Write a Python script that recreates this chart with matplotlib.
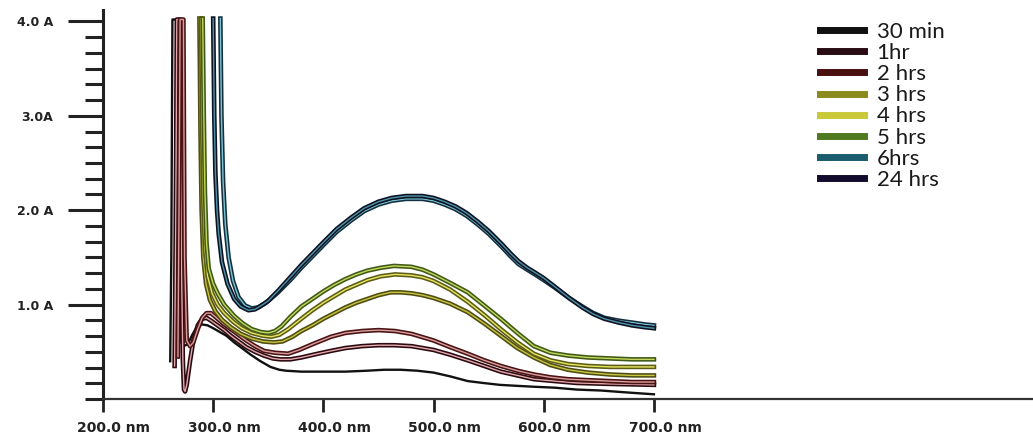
import matplotlib
matplotlib.use("Agg", force=True)
import matplotlib.pyplot as plt
import matplotlib.patheffects as pe
import matplotlib.transforms as mtransforms
from matplotlib.lines import Line2D
from matplotlib.ticker import FixedLocator

# UV-Vis spectra recorded at different reaction times (wavelength in nm, absorbance in A)
wl_30min = [261, 262, 263, 265, 267, 268, 270, 273, 277, 281, 285, 290, 295, 300, 306, 312, 319, 326,
            334, 343, 352, 360, 366, 380, 400, 420, 440, 455, 470, 485, 500, 515, 531, 545, 560, 575,
            591, 610, 630, 652, 675, 700]
abs_30min = [0.40, 1.5, 4.02, 4.02, 4.02, 1.2, 0.62, 0.56, 0.58, 0.68, 0.76, 0.79, 0.78, 0.75, 0.71, 0.67,
             0.60, 0.54, 0.47, 0.40, 0.34, 0.31, 0.30, 0.29, 0.29, 0.29, 0.30, 0.31, 0.31, 0.30, 0.28, 0.24,
             0.19, 0.17, 0.15, 0.14, 0.13, 0.12, 0.10, 0.09, 0.07, 0.05]

wl_1hr = [265, 266, 267, 270, 271.5, 272.5, 273.5, 274.5, 276, 279, 282, 286, 290, 294, 298, 304, 310, 316,
          323, 330, 338, 346, 354, 361, 370, 380, 395, 407, 420, 435, 450, 464, 480, 500, 515, 531, 546,
          561, 576, 591, 610, 630, 660, 700]
abs_1hr = [0.35, 1.8, 4.02, 4.02, 1.2, 0.40, 0.10, 0.08, 0.15, 0.40, 0.62, 0.78, 0.85, 0.86, 0.83, 0.78,
           0.73, 0.67, 0.61, 0.55, 0.50, 0.46, 0.43, 0.42, 0.42, 0.44, 0.48, 0.51, 0.54, 0.56, 0.57, 0.57,
           0.56, 0.52, 0.47, 0.41, 0.35, 0.29, 0.25, 0.21, 0.19, 0.17, 0.16, 0.15]

wl_2hrs = [268, 269, 270, 273, 274, 276, 279, 282, 286, 290, 294, 298, 303, 309, 316, 323, 330, 338, 346,
           356, 368, 378, 390, 407, 420, 435, 450, 465, 480, 500, 515, 531, 546, 561, 576, 591, 606, 622,
           640, 660, 680, 700]
abs_2hrs = [0.45, 2.0, 4.02, 4.02, 1.5, 0.62, 0.56, 0.60, 0.74, 0.86, 0.91, 0.91, 0.86, 0.80, 0.74, 0.68,
            0.62, 0.56, 0.51, 0.49, 0.48, 0.52, 0.58, 0.66, 0.70, 0.72, 0.73, 0.72, 0.69, 0.62, 0.55, 0.48,
            0.41, 0.35, 0.30, 0.26, 0.23, 0.21, 0.20, 0.19, 0.18, 0.18]

wl_3hrs = [287.5, 288.5, 289.5, 291, 293.5, 297, 302, 308, 316, 325, 335, 345, 355, 363, 372, 380, 390,
           400, 410, 420, 430, 440, 450, 461, 470, 480, 490, 500, 515, 531, 546, 561, 576, 591, 606, 622,
           640, 660, 680, 700]
abs_3hrs = [4.03, 2.8, 2.0, 1.5, 1.22, 1.05, 0.93, 0.84, 0.76, 0.69, 0.64, 0.61, 0.60, 0.61, 0.66, 0.72,
            0.78, 0.85, 0.91, 0.97, 1.02, 1.06, 1.10, 1.13, 1.13, 1.12, 1.10, 1.07, 1.01, 0.92, 0.80, 0.67,
            0.54, 0.44, 0.36, 0.31, 0.28, 0.26, 0.25, 0.25]

wl_4hrs = [289, 290, 291, 292.5, 295, 299, 304, 310, 318, 326, 335, 345, 353, 360, 368, 380, 390, 400, 410,
           420, 430, 440, 452, 465, 480, 490, 500, 515, 531, 546, 561, 576, 591, 606, 622, 640, 660, 680, 700]
abs_4hrs = [4.03, 2.9, 2.1, 1.6, 1.3, 1.12, 1.0, 0.91, 0.82, 0.75, 0.70, 0.67, 0.66, 0.68, 0.74, 0.85,
            0.94, 1.02, 1.09, 1.16, 1.21, 1.26, 1.30, 1.32, 1.31, 1.29, 1.25, 1.16, 1.03, 0.89, 0.74, 0.60,
            0.48, 0.41, 0.37, 0.35, 0.34, 0.34, 0.34]

wl_5hrs = [290.5, 291.5, 292.5, 294, 296, 300, 304, 310, 319, 327, 335, 343, 350, 356, 362, 370, 380, 390,
           400, 410, 420, 430, 440, 452, 464, 480, 490, 500, 515, 531, 546, 561, 576, 591, 606, 622, 640,
           660, 680, 700]
abs_5hrs = [4.03, 3.0, 2.2, 1.65, 1.38, 1.22, 1.12, 1.0, 0.88, 0.80, 0.74, 0.71, 0.70, 0.72, 0.77, 0.87,
            0.98, 1.06, 1.14, 1.21, 1.27, 1.32, 1.36, 1.39, 1.41, 1.40, 1.37, 1.32, 1.23, 1.13, 0.99, 0.85,
            0.70, 0.56, 0.49, 0.46, 0.44, 0.43, 0.42, 0.42]

wl_6hrs = [306.5, 307.5, 309, 311, 314, 318, 323, 329, 335, 341, 348, 358, 370, 380, 390, 400, 412, 425,
           437, 450, 462, 475, 490, 500, 510, 520, 530, 540, 550, 562, 570, 577, 585, 592, 600, 610, 623,
           635, 645, 655, 668, 680, 692, 700]
abs_6hrs = [4.03, 3.0, 2.3, 1.85, 1.5, 1.25, 1.08, 0.99, 0.96, 0.97, 1.02, 1.12, 1.26, 1.39, 1.51, 1.63,
            1.77, 1.89, 1.99, 2.06, 2.10, 2.12, 2.12, 2.10, 2.06, 2.01, 1.94, 1.85, 1.75, 1.61, 1.51, 1.43,
            1.37, 1.32, 1.26, 1.18, 1.07, 0.98, 0.91, 0.86, 0.83, 0.81, 0.79, 0.78]

wl_24hrs = [300, 301, 302, 303.5, 305, 308, 313, 319, 325, 332, 338, 345, 350, 360, 370, 380, 390, 400,
            412, 425, 437, 450, 462, 475, 490, 500, 510, 520, 530, 540, 550, 562, 570, 577, 585, 592, 600,
            610, 623, 635, 645, 655, 668, 680, 692, 700]
abs_24hrs = [4.03, 3.0, 2.4, 2.0, 1.75, 1.45, 1.22, 1.06, 0.98, 0.94, 0.95, 1.0, 1.04, 1.16, 1.29, 1.42,
             1.54, 1.66, 1.80, 1.92, 2.02, 2.09, 2.13, 2.15, 2.15, 2.13, 2.09, 2.04, 1.97, 1.88, 1.78, 1.64,
             1.54, 1.46, 1.39, 1.34, 1.28, 1.19, 1.07, 0.97, 0.90, 0.85, 0.81, 0.78, 0.76, 0.75]

labels = ["30 min", "1hr", "2 hrs", "3 hrs", "4 hrs", "5 hrs", "6hrs", "24 hrs"]
x_ticks = [200, 300, 400, 500, 600, 700]
x_tick_labels = ["200.0 nm", "300.0 nm", "400.0 nm", "500.0 nm", "600.0 nm", "700.0 nm"]
y_ticks = [1, 2, 3, 4]
y_tick_labels = ["1.0 A", "2.0 A", "3.0A", "4.0 A"]

# (wavelengths, absorbance, outline colour, inner colour, legend colour)
series = [
    (wl_30min, abs_30min, "#111111", None, "#101010"),
    (wl_1hr, abs_1hr, "#2a0a10", "#e3a9ad", "#2a0c14"),
    (wl_2hrs, abs_2hrs, "#4a1212", "#d9a0a0", "#4a1010"),
    (wl_3hrs, abs_3hrs, "#4e4d14", "#c8c440", "#8b8a1c"),
    (wl_4hrs, abs_4hrs, "#5c5c18", "#e8e860", "#c9c93a"),
    (wl_5hrs, abs_5hrs, "#3f5a18", "#c6d65a", "#4f7a20"),
    (wl_6hrs, abs_6hrs, "#14303f", "#7cc4d4", "#1b5c6e"),
    (wl_24hrs, abs_24hrs, "#0d1222", "#4f93a8", "#140c2c"),
]

fig = plt.figure(figsize=(10.33, 4.41), dpi=100)
ax = fig.add_axes([0.0997, 0.0952, 0.9003, 0.882])
ax.set_xlim(200, 1044)
ax.set_ylim(0, 4.12)

for wl, ab, edge, inner, _ in series:
    if inner is None:
        ax.plot(wl, ab, color=edge, lw=1.7, solid_joinstyle="round")
    else:
        ax.plot(wl, ab, color=inner, lw=1.0, solid_joinstyle="round",
                path_effects=[pe.Stroke(linewidth=3.3, foreground=edge), pe.Normal()])

# axes styling
for side in ("top", "right"):
    ax.spines[side].set_visible(False)
ax.spines["left"].set_linewidth(2.2)
ax.spines["left"].set_color("#222222")
ax.spines["bottom"].set_linewidth(1.6)
ax.spines["bottom"].set_color("#333333")

ax.set_xticks(x_ticks)
ax.set_xticklabels(x_tick_labels, fontsize=10, fontweight="bold", family="DejaVu Sans", color="#222222")
ax.yaxis.set_major_locator(FixedLocator(y_ticks))
ax.yaxis.set_minor_locator(FixedLocator([k / 6 for k in range(25) if k % 6 != 0] + [0]))
ax.set_yticklabels(y_tick_labels, fontsize=9, fontweight="bold", family="DejaVu Sans", color="#222222")

ax.tick_params(axis="y", which="major", direction="out", length=25, width=2.2, pad=11, color="#222222")
ax.tick_params(axis="y", which="minor", direction="out", length=13, width=2.2, color="#222222")
ax.tick_params(axis="x", which="major", direction="out", length=9, width=2, pad=7, color="#222222")

shift = mtransforms.ScaledTranslation(11 / 100, 0, fig.dpi_scale_trans)
for lab in ax.get_xticklabels():
    lab.set_transform(lab.get_transform() + shift)

handles = [Line2D([0], [0], color=c, lw=5) for *_, c in series]
fig.legend(handles, labels, loc="upper left", bbox_to_anchor=(820 / 1033, 1 - 22 / 441),
           frameon=False, borderpad=0, borderaxespad=0, handlelength=2.0, handletextpad=0.55,
           labelspacing=0.05, prop={"family": "Lato", "size": 16}, labelcolor="#1a1a1a")

fig.savefig("out.png", dpi=100, facecolor="white")
